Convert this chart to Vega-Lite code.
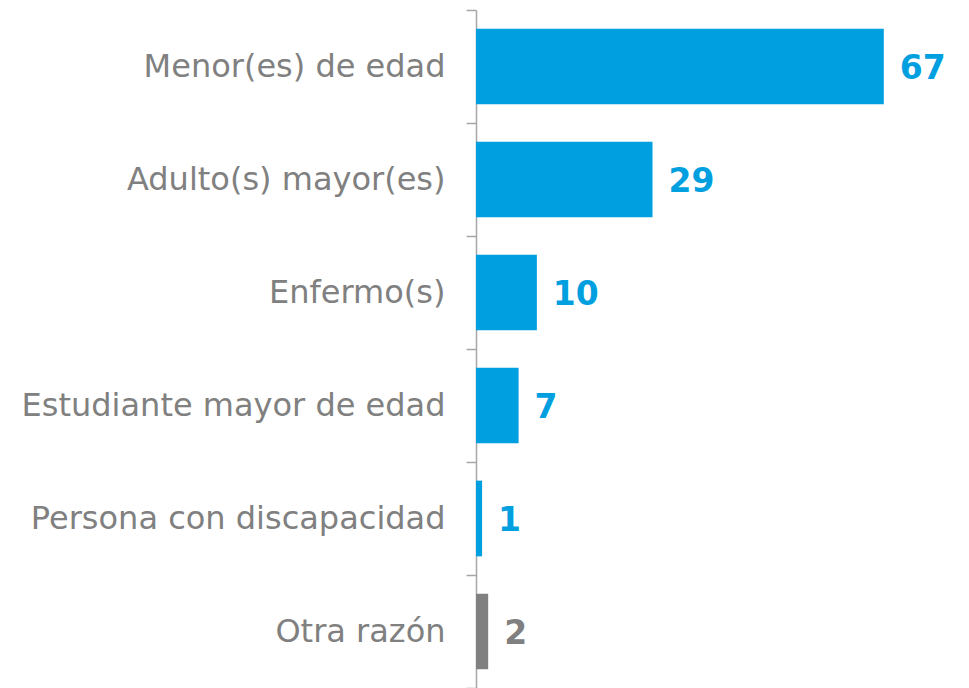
{
  "$schema": "https://vega.github.io/schema/vega-lite/v6.json",
  "autosize": {"type": "none"},
  "padding": {"left": 476, "top": 10, "right": 0, "bottom": 0},
  "width": 493,
  "height": 678,
  "background": "white",
  "config": {"view": {"stroke": null}},
  "data": {"values": [
    {"cat": "Menor(es) de edad", "value": 67},
    {"cat": "Adulto(s) mayor(es)", "value": 29},
    {"cat": "Enfermo(s)", "value": 10},
    {"cat": "Estudiante mayor de edad", "value": 7},
    {"cat": "Persona con discapacidad", "value": 1},
    {"cat": "Otra razón", "value": 2}
  ]},
  "encoding": {
    "y": {"field": "cat", "type": "nominal", "sort": null,
      "scale": {"paddingInner": 0, "paddingOuter": 0},
      "axis": {"title": null, "tickBand": "extent", "tickSize": 10, "tickColor": "#a6a6a6", "domainColor": "#a6a6a6", "domainWidth": 1.5, "tickWidth": 1.5,
        "labelFont": "DejaVu Sans", "labelFontSize": 32, "labelColor": "#808080", "labelPadding": 21, "labelLimit": 480}},
    "x": {"field": "value", "type": "quantitative", "scale": {"domain": [0, 81]}, "axis": null}
  },
  "layer": [
    {"mark": {"type": "bar", "height": {"band": 0.67}},
      "encoding": {"color": {"condition": {"test": "datum.cat === 'Otra razón'", "value": "#808080"}, "value": "#009fdf"}}},
    {"mark": {"type": "text", "align": "left", "baseline": "middle", "dx": 16, "dy": 2, "font": "DejaVu Sans", "fontWeight": "bold", "fontSize": 33},
      "encoding": {"text": {"field": "value"}, "color": {"condition": {"test": "datum.cat === 'Otra razón'", "value": "#808080"}, "value": "#009fdf"}}}
  ]
}
